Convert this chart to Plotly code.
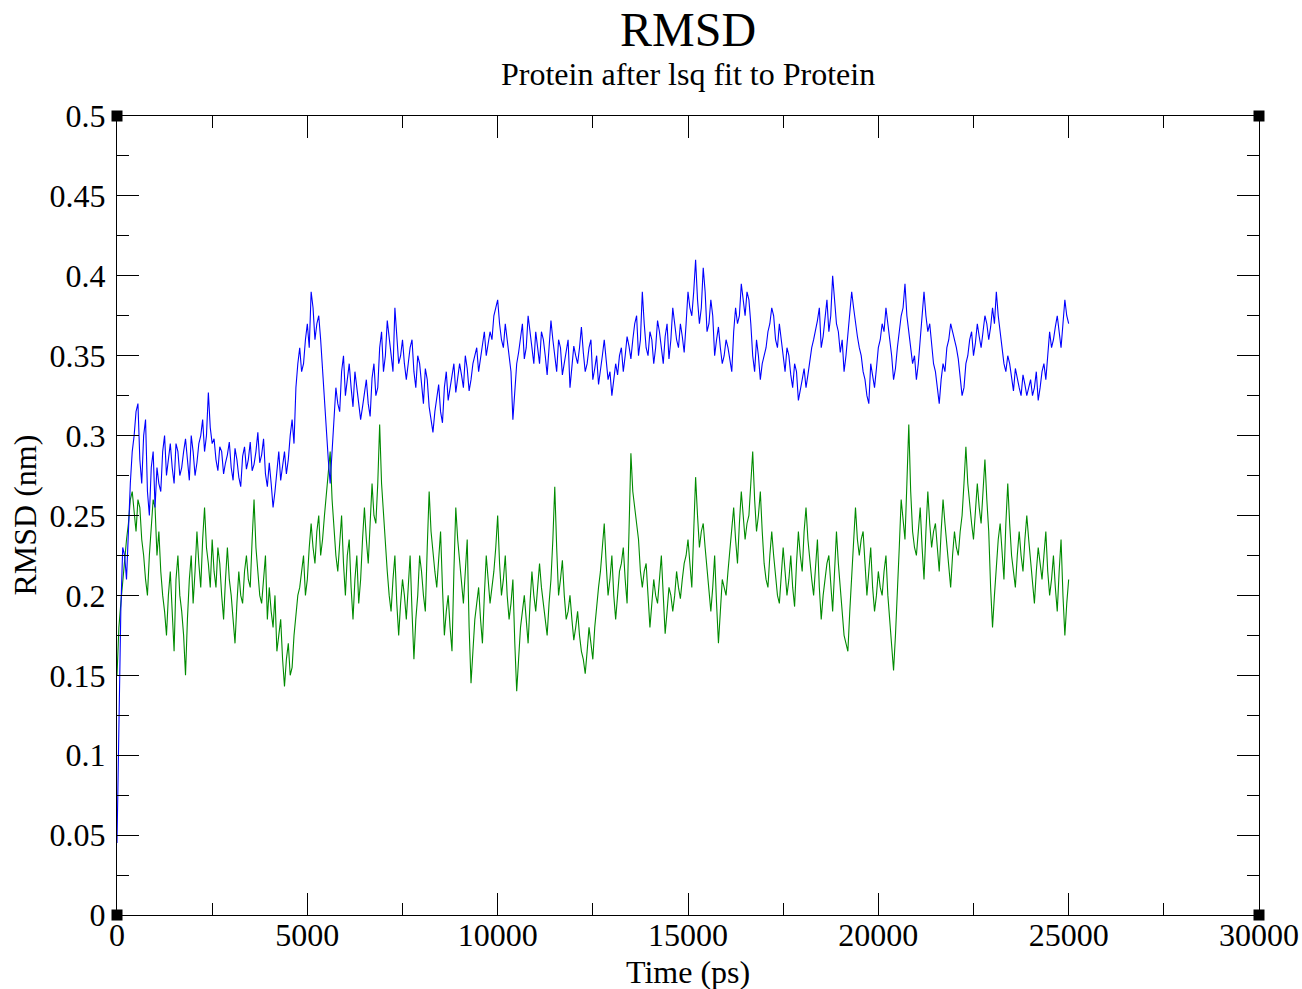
import plotly.graph_objects as go

# ---------------- data ----------------
# samples on the 100 ps grid (t = 0, 100, ..., 25000)
blue_on_grid = [
    0.045, 0.19, 0.225, 0.245, 0.29, 0.315, 0.285, 0.30, 0.265, 0.28,
    0.255, 0.27, 0.29, 0.275, 0.295, 0.27, 0.29, 0.28, 0.298, 0.272,
    0.29, 0.283, 0.30, 0.29, 0.327, 0.295, 0.285, 0.293, 0.276, 0.288,
    0.28, 0.292, 0.274, 0.287, 0.279, 0.296, 0.282, 0.302, 0.288, 0.276,
    0.283, 0.255, 0.28, 0.272, 0.29, 0.285, 0.31, 0.33, 0.355, 0.345,
    0.37, 0.39, 0.36, 0.375, 0.34, 0.30, 0.27, 0.305, 0.32, 0.34,
    0.325, 0.345, 0.318, 0.33, 0.31, 0.328, 0.32, 0.336, 0.325, 0.355,
    0.34, 0.372, 0.35, 0.38, 0.345, 0.36, 0.335, 0.355, 0.34, 0.35,
    0.33, 0.342, 0.318, 0.302, 0.325, 0.315, 0.33, 0.322, 0.338, 0.327,
    0.345, 0.33, 0.342, 0.335, 0.35, 0.34, 0.358, 0.35, 0.365, 0.375,
    0.385, 0.36, 0.37, 0.35, 0.31, 0.345, 0.36, 0.348, 0.375, 0.352,
    0.365, 0.345, 0.36, 0.338, 0.372, 0.35, 0.36, 0.338, 0.352, 0.33,
    0.356, 0.345, 0.368, 0.34, 0.355, 0.335, 0.35, 0.34, 0.36, 0.335,
    0.325, 0.345, 0.35, 0.34, 0.362, 0.348, 0.37, 0.35, 0.39, 0.355,
    0.365, 0.345, 0.372, 0.355, 0.362, 0.348, 0.38, 0.36, 0.37, 0.352,
    0.39, 0.375, 0.41, 0.37, 0.405, 0.365, 0.385, 0.35, 0.368, 0.345,
    0.36, 0.348, 0.365, 0.37, 0.395, 0.375, 0.385, 0.35, 0.36, 0.335,
    0.35, 0.365, 0.38, 0.36, 0.37, 0.348, 0.355, 0.338, 0.345, 0.322,
    0.335, 0.33, 0.348, 0.36, 0.372, 0.355, 0.375, 0.365, 0.40, 0.37,
    0.352, 0.34, 0.365, 0.39, 0.37, 0.355, 0.34, 0.325, 0.345, 0.33,
    0.355, 0.37, 0.38, 0.36, 0.335, 0.355, 0.375, 0.395, 0.365, 0.345,
    0.335, 0.36, 0.39, 0.365, 0.355, 0.34, 0.32, 0.345, 0.355, 0.37,
    0.36, 0.348, 0.325, 0.345, 0.36, 0.35, 0.37, 0.355, 0.375, 0.36,
    0.38, 0.39, 0.365, 0.345, 0.35, 0.335, 0.342, 0.33, 0.338, 0.325,
    0.335, 0.33, 0.322, 0.34, 0.335, 0.365, 0.36, 0.375, 0.355, 0.385,
    0.37,
]
# samples half-way between grid points (t = 50, 150, ..., 24950)
blue_off_grid = [
    0.12, 0.23, 0.21, 0.27, 0.30, 0.32, 0.27, 0.31, 0.25, 0.29,
    0.28, 0.265, 0.30, 0.285, 0.28, 0.295, 0.275, 0.29, 0.285, 0.30,
    0.275, 0.295, 0.31, 0.30, 0.305, 0.298, 0.278, 0.29, 0.283, 0.296,
    0.272, 0.285, 0.268, 0.293, 0.285, 0.278, 0.29, 0.283, 0.298, 0.268,
    0.27, 0.265, 0.29, 0.28, 0.276, 0.30, 0.295, 0.345, 0.34, 0.36,
    0.355, 0.38, 0.37, 0.36, 0.325, 0.285, 0.29, 0.33, 0.315, 0.35,
    0.335, 0.33, 0.34, 0.322, 0.318, 0.335, 0.312, 0.345, 0.33, 0.365,
    0.35, 0.36, 0.34, 0.365, 0.35, 0.345, 0.345, 0.36, 0.33, 0.345,
    0.32, 0.335, 0.31, 0.315, 0.332, 0.308, 0.34, 0.33, 0.345, 0.335,
    0.338, 0.35, 0.328, 0.345, 0.355, 0.348, 0.365, 0.358, 0.36, 0.38,
    0.37, 0.355, 0.36, 0.34, 0.33, 0.352, 0.37, 0.355, 0.365, 0.345,
    0.355, 0.365, 0.35, 0.355, 0.36, 0.34, 0.355, 0.345, 0.36, 0.345,
    0.35, 0.355, 0.352, 0.345, 0.36, 0.342, 0.332, 0.35, 0.345, 0.34,
    0.335, 0.338, 0.355, 0.35, 0.356, 0.36, 0.375, 0.36, 0.37, 0.35,
    0.36, 0.355, 0.365, 0.345, 0.37, 0.36, 0.368, 0.355, 0.362, 0.37,
    0.38, 0.39, 0.385, 0.38, 0.39, 0.37, 0.375, 0.36, 0.355, 0.35,
    0.355, 0.34, 0.38, 0.375, 0.385, 0.39, 0.37, 0.34, 0.35, 0.345,
    0.355, 0.37, 0.375, 0.355, 0.36, 0.34, 0.35, 0.33, 0.34, 0.33,
    0.342, 0.338, 0.355, 0.365, 0.38, 0.362, 0.385, 0.375, 0.385, 0.365,
    0.36, 0.35, 0.375, 0.38, 0.362, 0.35, 0.335, 0.32, 0.338, 0.342,
    0.36, 0.365, 0.37, 0.35, 0.342, 0.365, 0.38, 0.375, 0.355, 0.35,
    0.345, 0.37, 0.375, 0.37, 0.345, 0.33, 0.335, 0.34, 0.36, 0.365,
    0.355, 0.335, 0.33, 0.35, 0.365, 0.358, 0.362, 0.365, 0.37, 0.368,
    0.37, 0.375, 0.355, 0.34, 0.345, 0.328, 0.335, 0.325, 0.332, 0.33,
    0.325, 0.34, 0.33, 0.345, 0.35, 0.355, 0.368, 0.365, 0.37, 0.375,
]

green_on_grid = [
    0.15, 0.195, 0.22, 0.245, 0.265, 0.24, 0.255, 0.225, 0.20, 0.24,
    0.255, 0.24, 0.20, 0.175, 0.215, 0.165, 0.225, 0.19, 0.15, 0.21,
    0.195, 0.24, 0.205, 0.255, 0.22, 0.235, 0.205, 0.22, 0.185, 0.23,
    0.20, 0.17, 0.215, 0.195, 0.225, 0.205, 0.26, 0.215, 0.195, 0.225,
    0.205, 0.18, 0.165, 0.185, 0.143, 0.17, 0.155, 0.19, 0.205, 0.225,
    0.21, 0.245, 0.22, 0.25, 0.235, 0.265, 0.29, 0.24, 0.215, 0.25,
    0.20, 0.235, 0.185, 0.225, 0.21, 0.255, 0.22, 0.27, 0.245, 0.307,
    0.25, 0.215, 0.19, 0.225, 0.175, 0.21, 0.185, 0.225, 0.16, 0.20,
    0.215, 0.19, 0.265, 0.225, 0.205, 0.24, 0.175, 0.20, 0.165, 0.255,
    0.22, 0.195, 0.235, 0.145, 0.185, 0.205, 0.17, 0.225, 0.195, 0.215,
    0.25, 0.20, 0.225, 0.185, 0.21, 0.14, 0.18, 0.20, 0.17, 0.215,
    0.19, 0.22, 0.195, 0.175, 0.21, 0.268, 0.20, 0.222, 0.185, 0.20,
    0.172, 0.19, 0.165, 0.151, 0.18, 0.16, 0.195, 0.215, 0.245, 0.20,
    0.225, 0.185, 0.215, 0.23, 0.195, 0.289, 0.255, 0.235, 0.205, 0.22,
    0.18, 0.21, 0.195, 0.225, 0.176, 0.205, 0.19, 0.215, 0.198, 0.22,
    0.235, 0.205, 0.274, 0.23, 0.245, 0.215, 0.19, 0.225, 0.17, 0.21,
    0.20, 0.23, 0.255, 0.22, 0.265, 0.235, 0.25, 0.29, 0.24, 0.265,
    0.22, 0.205, 0.24, 0.21, 0.195, 0.23, 0.20, 0.225, 0.193, 0.24,
    0.215, 0.255, 0.22, 0.20, 0.235, 0.185, 0.21, 0.225, 0.19, 0.24,
    0.205, 0.175, 0.165, 0.21, 0.255, 0.225, 0.24, 0.20, 0.23, 0.19,
    0.215, 0.20, 0.225, 0.185, 0.153, 0.20, 0.26, 0.235, 0.307, 0.24,
    0.225, 0.255, 0.21, 0.265, 0.23, 0.245, 0.215, 0.26, 0.23, 0.205,
    0.24, 0.225, 0.25, 0.293, 0.255, 0.235, 0.27, 0.245, 0.285, 0.24,
    0.18, 0.22, 0.245, 0.21, 0.27, 0.225, 0.205, 0.24, 0.215, 0.25,
    0.22, 0.195, 0.23, 0.21, 0.24, 0.20, 0.225, 0.19, 0.235, 0.175,
    0.21,
]
green_off_grid = [
    0.18, 0.21, 0.235, 0.26, 0.25, 0.26, 0.235, 0.21, 0.225, 0.26,
    0.225, 0.215, 0.19, 0.20, 0.185, 0.21, 0.20, 0.175, 0.185, 0.225,
    0.215, 0.22, 0.235, 0.23, 0.205, 0.215, 0.23, 0.20, 0.21, 0.21,
    0.185, 0.195, 0.20, 0.215, 0.21, 0.235, 0.23, 0.20, 0.21, 0.185,
    0.19, 0.20, 0.175, 0.16, 0.16, 0.15, 0.175, 0.20, 0.215, 0.20,
    0.23, 0.23, 0.24, 0.225, 0.25, 0.275, 0.26, 0.225, 0.235, 0.22,
    0.225, 0.205, 0.21, 0.195, 0.235, 0.235, 0.245, 0.25, 0.27, 0.27,
    0.23, 0.20, 0.21, 0.195, 0.195, 0.20, 0.205, 0.19, 0.185, 0.225,
    0.20, 0.23, 0.24, 0.215, 0.22, 0.205, 0.19, 0.18, 0.215, 0.235,
    0.205, 0.215, 0.18, 0.165, 0.195, 0.185, 0.20, 0.21, 0.205, 0.23,
    0.22, 0.21, 0.20, 0.195, 0.17, 0.16, 0.19, 0.185, 0.195, 0.20,
    0.205, 0.205, 0.185, 0.195, 0.235, 0.23, 0.21, 0.20, 0.19, 0.185,
    0.18, 0.175, 0.16, 0.165, 0.17, 0.18, 0.205, 0.23, 0.22, 0.21,
    0.20, 0.20, 0.22, 0.21, 0.24, 0.265, 0.245, 0.215, 0.215, 0.20,
    0.195, 0.20, 0.21, 0.20, 0.19, 0.20, 0.20, 0.205, 0.21, 0.225,
    0.22, 0.24, 0.25, 0.24, 0.23, 0.20, 0.205, 0.195, 0.19, 0.205,
    0.215, 0.24, 0.235, 0.245, 0.25, 0.245, 0.27, 0.26, 0.25, 0.24,
    0.21, 0.225, 0.225, 0.20, 0.215, 0.215, 0.21, 0.205, 0.22, 0.225,
    0.24, 0.235, 0.21, 0.22, 0.205, 0.20, 0.22, 0.205, 0.215, 0.22,
    0.19, 0.17, 0.19, 0.235, 0.235, 0.235, 0.22, 0.215, 0.205, 0.20,
    0.205, 0.215, 0.20, 0.17, 0.175, 0.23, 0.245, 0.27, 0.265, 0.23,
    0.24, 0.23, 0.24, 0.245, 0.24, 0.23, 0.24, 0.245, 0.215, 0.225,
    0.23, 0.24, 0.27, 0.27, 0.245, 0.255, 0.255, 0.265, 0.26, 0.205,
    0.20, 0.235, 0.225, 0.245, 0.245, 0.215, 0.225, 0.225, 0.235, 0.235,
    0.205, 0.215, 0.22, 0.225, 0.215, 0.21, 0.205, 0.215, 0.20, 0.195,
]

grid_step_ps = 100
half_step_ps = 50

x_ticks = [0, 5000, 10000, 15000, 20000, 25000, 30000]
y_ticks = [0, 0.05, 0.1, 0.15, 0.2, 0.25, 0.3, 0.35, 0.4, 0.45, 0.5]
y_tick_labels = ["0", "0.05", "0.1", "0.15", "0.2", "0.25", "0.3", "0.35", "0.4", "0.45", "0.5"]
x_range = [0, 30000]
y_range = [0, 0.5]

title_text = "RMSD"
subtitle_text = "Protein after lsq fit to Protein"
x_title = "Time (ps)"
y_title = "RMSD (nm)"


def merge(on_grid, off_grid):
    pts = [(i * grid_step_ps, v) for i, v in enumerate(on_grid)]
    pts += [(i * grid_step_ps + half_step_ps, v) for i, v in enumerate(off_grid)]
    pts.sort()
    return [p[0] for p in pts], [p[1] for p in pts]


t_blue, y_blue = merge(blue_on_grid, blue_off_grid)
t_green, y_green = merge(green_on_grid, green_off_grid)

# ---------------- figure ----------------
FONT = "Liberation Serif"

fig = go.Figure()
fig.add_trace(go.Scatter(x=t_green, y=y_green, mode="lines",
                         line=dict(color="#008b00", width=1.1), showlegend=False,
                         hoverinfo="skip"))
fig.add_trace(go.Scatter(x=t_blue, y=y_blue, mode="lines",
                         line=dict(color="#0000ff", width=1.1), showlegend=False,
                         hoverinfo="skip"))
# corner markers (Grace-style)
fig.add_trace(go.Scatter(x=[x_range[0], x_range[0], x_range[1], x_range[1]],
                         y=[y_range[0], y_range[1], y_range[0], y_range[1]],
                         mode="markers", cliponaxis=False,
                         marker=dict(symbol="square", size=11, color="black"),
                         showlegend=False, hoverinfo="skip"))

axis_common = dict(
    showline=True, linecolor="black", linewidth=1, mirror="ticks",
    ticks="inside", tickcolor="black", tickwidth=1, ticklen=22,
    showgrid=False, zeroline=False,
    tickfont=dict(family=FONT, size=32, color="black"),
)

fig.update_xaxes(
    range=x_range, tickvals=x_ticks, ticktext=[str(v) for v in x_ticks],
    minor=dict(ticks="inside", ticklen=12, tickcolor="black", tickwidth=1, dtick=2500, showgrid=False),
    ticklabelstandoff=-8,
    **axis_common,
)
fig.update_yaxes(
    range=y_range, tickvals=y_ticks, ticktext=y_tick_labels,
    minor=dict(ticks="inside", ticklen=12, tickcolor="black", tickwidth=1, dtick=0.025, showgrid=False),
    ticklabelstandoff=4,
    **axis_common,
)

# titles
fig.add_annotation(text=title_text, x=0.5, y=1, xref="paper", yref="paper",
                   xanchor="center", yanchor="bottom", yshift=58, showarrow=False,
                   font=dict(family=FONT, size=48, color="black"))
fig.add_annotation(text=subtitle_text, x=0.5, y=1, xref="paper", yref="paper",
                   xanchor="center", yanchor="bottom", yshift=22, showarrow=False,
                   font=dict(family=FONT, size=32, color="black"))
fig.add_annotation(text=x_title, x=0.5, y=0, xref="paper", yref="paper",
                   xanchor="center", yanchor="middle", yshift=-57, showarrow=False,
                   font=dict(family=FONT, size=32, color="black"))
fig.add_annotation(text=y_title, x=0, y=0.5, xref="paper", yref="paper",
                   xanchor="center", yanchor="middle", xshift=-93, textangle=-90,
                   showarrow=False, font=dict(family=FONT, size=32, color="black"))

fig.update_layout(
    width=1302, height=989,
    margin=dict(l=117, r=43, t=116, b=74, autoexpand=False),
    paper_bgcolor="white", plot_bgcolor="white",
)

fig.write_html("out.html")
